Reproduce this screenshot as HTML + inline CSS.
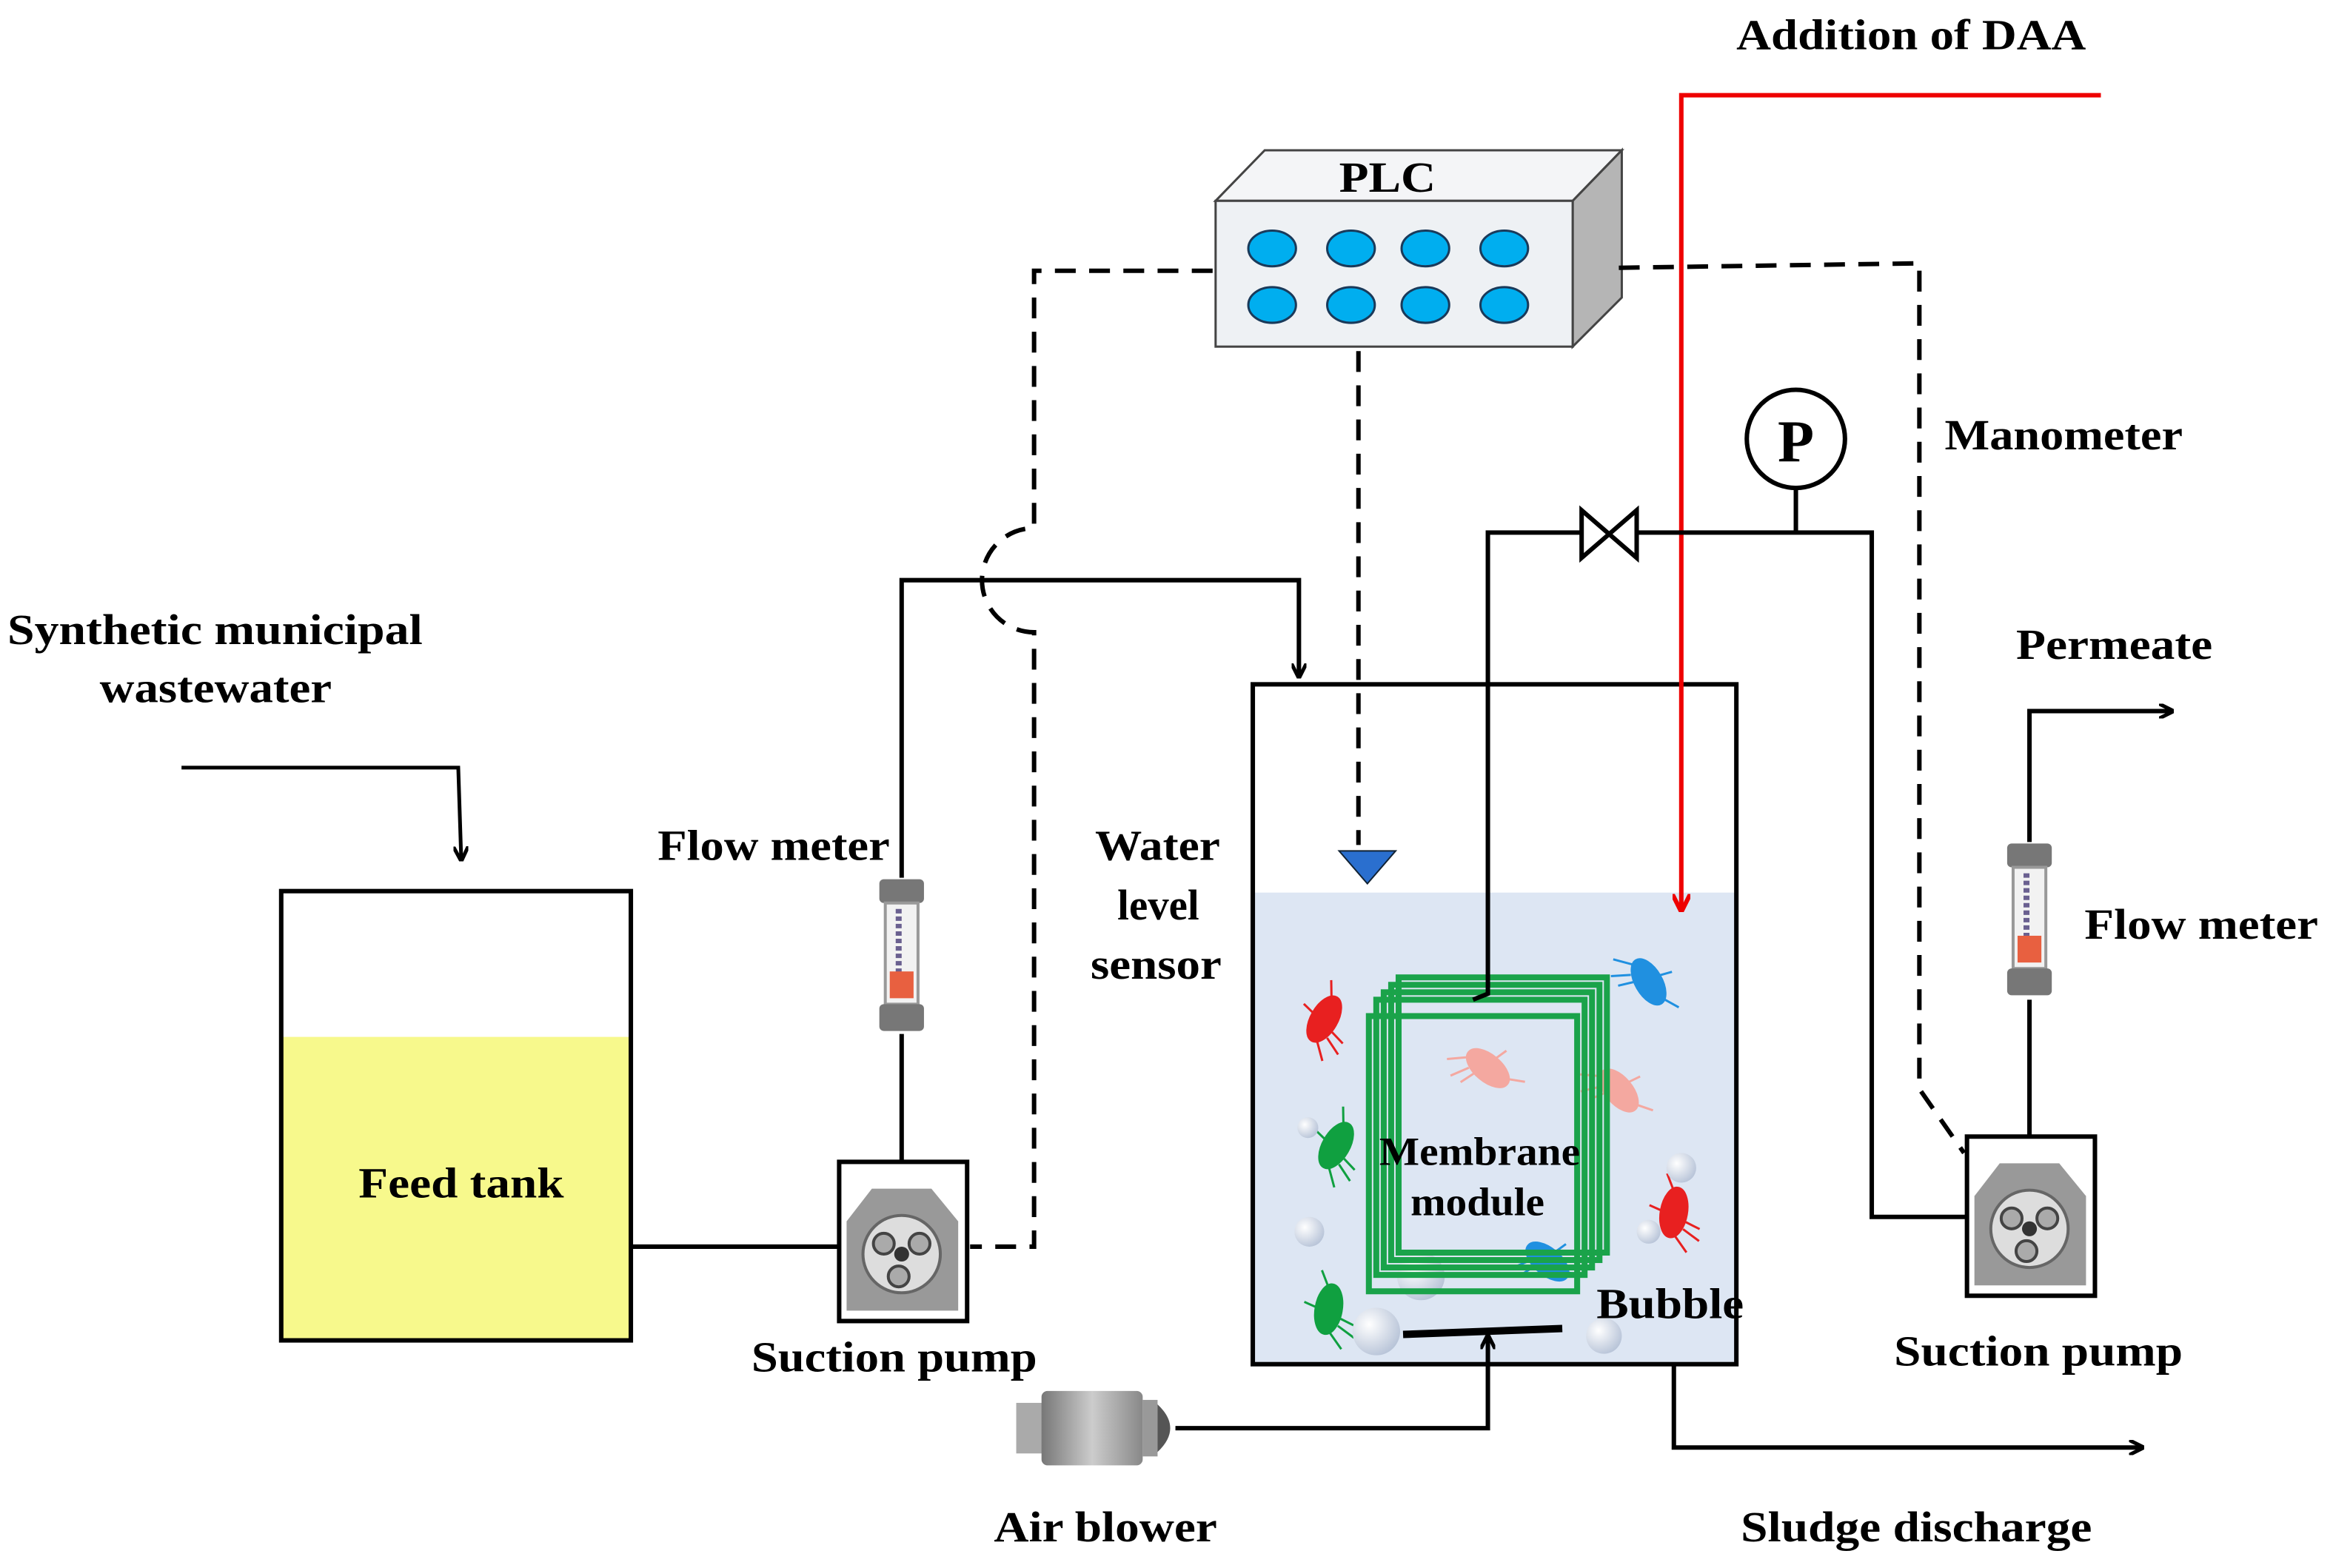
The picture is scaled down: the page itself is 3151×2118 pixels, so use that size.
<!DOCTYPE html>
<html><head><meta charset="utf-8"><style>html,body{margin:0;padding:0;background:#fff}svg{display:block}text{font-family:"Liberation Serif",serif;font-weight:bold;fill:#000}</style></head>
<body>
<svg width="3151" height="2118" viewBox="0 0 1568 1054" preserveAspectRatio="none" xmlns="http://www.w3.org/2000/svg">
<defs>
<marker id="ah" markerWidth="10" markerHeight="10" refX="9" refY="5" orient="auto" markerUnits="userSpaceOnUse"><path d="M0,0 L10,5 L0,10" fill="none" stroke="#000" stroke-width="2.5"/></marker>
<marker id="ar" markerWidth="12" markerHeight="12" refX="11" refY="6" orient="auto" markerUnits="userSpaceOnUse"><path d="M0,0 L12,6 L0,12" fill="none" stroke="#e00" stroke-width="3"/></marker>
<radialGradient id="bub" cx="0.35" cy="0.35" r="0.7"><stop offset="0" stop-color="#fff"/><stop offset="1" stop-color="#b8c4d8"/></radialGradient>
<linearGradient id="blw" x1="0" x2="1"><stop offset="0" stop-color="#777"/><stop offset="0.5" stop-color="#ccc"/><stop offset="1" stop-color="#888"/></linearGradient>
<g id="pump"><rect x="0" y="0" width="86" height="107" fill="#fff" stroke="#000" stroke-width="3"/>
<path d="M5,40 L22,18 L62,18 L80,40 L80,100 L5,100 Z" fill="#999"/>
<circle cx="42" cy="62" r="26" fill="#ddd" stroke="#666" stroke-width="2"/>
<circle cx="30" cy="55" r="7" fill="#aaa" stroke="#444" stroke-width="2"/><circle cx="54" cy="55" r="7" fill="#aaa" stroke="#444" stroke-width="2"/><circle cx="40" cy="77" r="7" fill="#aaa" stroke="#444" stroke-width="2"/><circle cx="42" cy="62" r="5" fill="#333"/></g>
<g id="fm"><rect x="-15" y="0" width="30" height="16" rx="3" fill="#777"/><rect x="-11" y="16" width="22" height="68" fill="#f2f2f2" stroke="#999" stroke-width="2"/><line x1="-2" y1="20" x2="-2" y2="70" stroke="#6a6090" stroke-width="4" stroke-dasharray="3,2"/><rect x="-8" y="62" width="16" height="18" fill="#e86040"/><rect x="-15" y="84" width="30" height="18" rx="3" fill="#777"/></g>
<g id="bac"><ellipse cx="0" cy="0" rx="17" ry="9"/><path d="M-15,3 l-10,10 M-10,8 l-6,12 M15,-3 l10,-6 M0,-9 l2,-8 M-5,9 l-3,10" stroke-width="1.5"/></g>
</defs>
<g font-size="29" text-anchor="start" lengthAdjust="spacingAndGlyphs">
<text x="1167" y="33" textLength="235" lengthAdjust="spacingAndGlyphs">Addition of DAA</text>
<text x="5" y="433" textLength="279" lengthAdjust="spacingAndGlyphs">Synthetic municipal</text>
<text x="67" y="472" textLength="156" lengthAdjust="spacingAndGlyphs">wastewater</text>
<text x="442" y="578" textLength="156" lengthAdjust="spacingAndGlyphs">Flow meter</text>
<text x="1401" y="631" textLength="157" lengthAdjust="spacingAndGlyphs">Flow meter</text>
<text x="736" y="578" textLength="84" lengthAdjust="spacingAndGlyphs">Water</text>
<text x="751" y="618" textLength="55" lengthAdjust="spacingAndGlyphs">level</text>
<text x="733" y="658" textLength="88" lengthAdjust="spacingAndGlyphs">sensor</text>
<text x="505" y="922" textLength="192" lengthAdjust="spacingAndGlyphs">Suction pump</text>
<text x="1273" y="918" textLength="194" lengthAdjust="spacingAndGlyphs">Suction pump</text>
<text x="668" y="1036" textLength="150" lengthAdjust="spacingAndGlyphs">Air blower</text>
<text x="1170" y="1036" textLength="236" lengthAdjust="spacingAndGlyphs">Sludge discharge</text>
<text x="1355" y="443" textLength="132" lengthAdjust="spacingAndGlyphs">Permeate</text>
<text x="1307" y="302" textLength="160" lengthAdjust="spacingAndGlyphs">Manometer</text>
</g>
<!-- PLC -->
<polygon points="817,135 850,101 1090,101 1057,135" fill="#f4f5f7" stroke="#444" stroke-width="1.5"/>
<polygon points="1057,135 1090,101 1090,200 1057,233" fill="#b5b5b5" stroke="#444" stroke-width="1.5"/>
<rect x="817" y="135" width="240" height="98" fill="#eef1f4" stroke="#444" stroke-width="1.5"/>
<text x="900" y="129" font-size="29" textLength="65" lengthAdjust="spacingAndGlyphs">PLC</text>
<g fill="#00aeef" stroke="#1a3a5a" stroke-width="1.5">
<ellipse cx="855" cy="167" rx="16" ry="12"/><ellipse cx="908" cy="167" rx="16" ry="12"/><ellipse cx="958" cy="167" rx="16" ry="12"/><ellipse cx="1011" cy="167" rx="16" ry="12"/>
<ellipse cx="855" cy="205" rx="16" ry="12"/><ellipse cx="908" cy="205" rx="16" ry="12"/><ellipse cx="958" cy="205" rx="16" ry="12"/><ellipse cx="1011" cy="205" rx="16" ry="12"/></g>
<g fill="none" stroke="#000" stroke-width="3" stroke-dasharray="14,9">
<path d="M815,182 L695,182 L695,355 A35,35 0 0 0 695,425 L695,838 L652,838"/>
<path d="M913,236 L913,568"/>
<path d="M1088,180 L1290,177 L1290,732 L1320,775"/>
</g>
<polygon points="900,572 938,572 919,594" fill="#2a6fcf" stroke="#123" stroke-width="1"/>
<rect x="842" y="600" width="325" height="317" fill="#dde6f3"/>
<rect x="842" y="460" width="325" height="457" fill="none" stroke="#000" stroke-width="3"/>
<path d="M1412,64 L1130,64 L1130,612" fill="none" stroke="#e00" stroke-width="3" marker-end="url(#ar)"/>
<path d="M122,516 L308,516 L310,578" fill="none" stroke="#000" stroke-width="2.5" marker-end="url(#ah)"/>
<rect x="189" y="697" width="235" height="204" fill="#f7f98c"/>
<rect x="189" y="599" width="235" height="302" fill="none" stroke="#000" stroke-width="3"/>
<text x="241" y="805" font-size="29" textLength="138" lengthAdjust="spacingAndGlyphs">Feed tank</text>
<line x1="424" y1="838" x2="565" y2="838" stroke="#000" stroke-width="3"/>
<use href="#pump" x="564" y="781"/>
<path d="M606,780 L606,695 M606,590 L606,390 L873,390 L873,455" fill="none" stroke="#000" stroke-width="3" marker-end="url(#ah)"/>
<use href="#fm" x="606" y="591"/>
<use href="#bac" fill="#e82020" stroke="#e82020" transform="translate(890,685) rotate(-60)"/>
<use href="#bac" fill="#2090e0" stroke="#2090e0" transform="translate(1108,660) rotate(60)"/>
<use href="#bac" fill="#f4a8a0" stroke="#f4a8a0" transform="translate(1000,718) rotate(40)"/>
<use href="#bac" fill="#f4a8a0" stroke="#f4a8a0" transform="translate(1088,733) rotate(50)"/>
<use href="#bac" fill="#10a040" stroke="#10a040" transform="translate(898,770) rotate(-60)"/>
<use href="#bac" fill="#e82020" stroke="#e82020" transform="translate(1125,815) rotate(-80)"/>
<use href="#bac" fill="#2090e0" stroke="#2090e0" transform="translate(1040,848) rotate(40)"/>
<use href="#bac" fill="#10a040" stroke="#10a040" transform="translate(893,880) rotate(-80)"/>
<g fill="url(#bub)"><circle cx="879" cy="758" r="7"/><circle cx="880" cy="828" r="10"/><circle cx="1130" cy="785" r="10"/><circle cx="1108" cy="828" r="8"/><circle cx="955" cy="858" r="16"/><circle cx="925" cy="895" r="16"/><circle cx="1078" cy="898" r="12"/></g>
<g fill="none" stroke="#1aa34a" stroke-width="4">
<rect x="940" y="657" width="140" height="185"/><rect x="935" y="662" width="140" height="185"/><rect x="930" y="667" width="140" height="185"/><rect x="925" y="672" width="140" height="185"/><rect x="920" y="683" width="140" height="185"/></g>
<text x="927" y="783" font-size="27" textLength="135" lengthAdjust="spacingAndGlyphs">Membrane</text>
<text x="948" y="817" font-size="27" textLength="90" lengthAdjust="spacingAndGlyphs">module</text>
<text x="1073" y="886" font-size="29" textLength="99" lengthAdjust="spacingAndGlyphs">Bubble</text>
<path d="M990,672 L1000,668 L1000,358 L1065,358 M1100,358 L1258,358 L1258,818 L1322,818 M1207,328 L1207,358" fill="none" stroke="#000" stroke-width="3"/>
<polygon points="1063,343 1063,375 1100,343 1100,375" fill="#fff" stroke="#000" stroke-width="3"/>
<circle cx="1207" cy="295" r="33" fill="#fff" stroke="#000" stroke-width="3"/>
<text x="1207" y="310" font-size="40" text-anchor="middle">P</text>
<use href="#pump" x="1322" y="764"/>
<path d="M1364,763 L1364,672 M1364,566 L1364,478 L1460,478" fill="none" stroke="#000" stroke-width="3" marker-end="url(#ah)"/>
<use href="#fm" x="1364" y="567"/>
<line x1="943" y1="897" x2="1050" y2="893" stroke="#000" stroke-width="5"/>
<path d="M790,960 L1000,960 L1000,898" fill="none" stroke="#000" stroke-width="3" marker-end="url(#ah)"/>
<rect x="683" y="943" width="30" height="34" fill="#aaa"/>
<rect x="700" y="935" width="68" height="50" rx="4" fill="url(#blw)"/>
<rect x="768" y="941" width="10" height="38" fill="#999"/>
<path d="M778,944 Q795,960 778,976 Z" fill="#555"/>
<path d="M1125,917 L1125,973 L1440,973" fill="none" stroke="#000" stroke-width="3" marker-end="url(#ah)"/>
</svg>
</body></html>
